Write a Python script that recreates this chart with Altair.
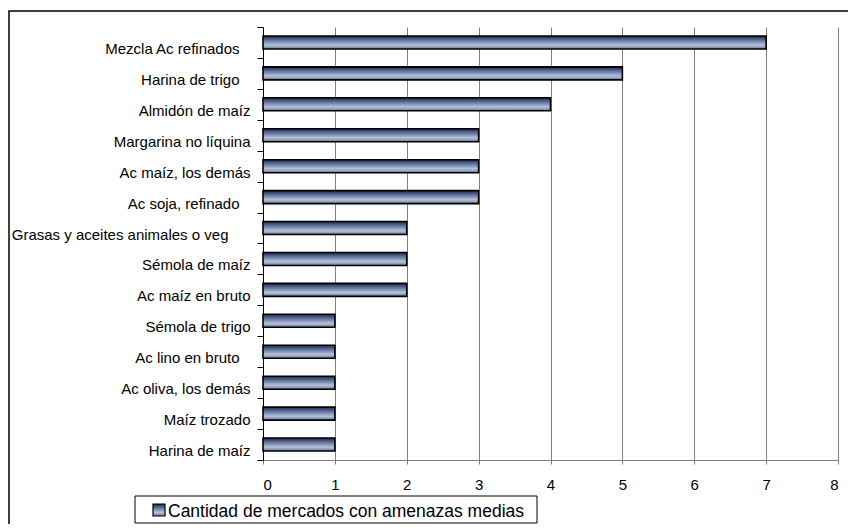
import altair as alt
import pandas as pd

categories = [
    "Mezcla Ac refinados ",
    "Harina de trigo ",
    "Almidón de maíz",
    "Margarina no líquina",
    "Ac maíz, los demás",
    "Ac soja, refinado ",
    "Grasas y aceites animales o veg  ",
    "Sémola de maíz",
    "Ac maíz en bruto",
    "Sémola de trigo",
    "Ac lino en bruto ",
    "Ac oliva, los demás",
    "Maíz trozado",
    "Harina de maíz",
]
values = [7, 5, 4, 3, 3, 3, 2, 2, 2, 1, 1, 1, 1, 1]
x_ticks = [0, 1, 2, 3, 4, 5, 6, 7, 8]
legend_label = "Cantidad de mercados con amenazas medias"

df = pd.DataFrame({"cat": categories, "val": values})
one = pd.DataFrame({"a": [0]})

SANS = "Liberation Sans"

grad = alt.Gradient(
    gradient="linear",
    stops=[
        alt.GradientStop(color="#1a2850", offset=0),
        alt.GradientStop(color="#5a6c94", offset=0.3),
        alt.GradientStop(color="#b4c2da", offset=0.7),
        alt.GradientStop(color="#6a7a9a", offset=1),
    ],
    x1=0, x2=0, y1=0, y2=1,
)

# keep trailing blanks of the original labels visible (as blank braille cells)
label_expr = (
    "trim(datum.label) + pad('', length(datum.label) - length(trim(datum.label)), '\u2800', 'right')"
)

bars = alt.Chart(df).mark_bar(size=13, fill=grad, stroke="black", strokeWidth=1.6).encode(
    x=alt.X(
        "val:Q",
        scale=alt.Scale(domain=[0, 8], nice=False),
        axis=alt.Axis(
            values=x_ticks, title=None, grid=True, gridColor="#808080", gridWidth=1,
            domainColor="#808080", tickColor="#808080", tickSize=4,
            labelFont=SANS, labelFontSize=15, labelColor="black", labelPadding=13,
        ),
    ),
    y=alt.Y(
        "cat:N",
        sort=categories,
        scale=alt.Scale(paddingInner=0, paddingOuter=0),
        axis=alt.Axis(
            title=None, grid=False, tickBand="extent", domainColor="black",
            tickColor="black", tickSize=6, labelFont=SANS, labelLimit=320,
            labelFontSize=15, labelColor="black", labelOffset=6, labelPadding=7,
            labelExpr=label_expr,
        ),
    ),
)

frame = alt.Chart(one).mark_rect(fill=None, stroke="black", strokeWidth=1.5).encode(
    x=alt.value(-254), x2=alt.value(700), y=alt.value(-16), y2=alt.value(700)
)

leg_box = alt.Chart(one).mark_rect(fill="white", stroke="black", strokeWidth=1).encode(
    x=alt.value(-128), x2=alt.value(274), y=alt.value(469), y2=alt.value(496)
)
leg_sym = alt.Chart(one).mark_rect(fill=grad, stroke="black", strokeWidth=1.2).encode(
    x=alt.value(-110), x2=alt.value(-98), y=alt.value(477), y2=alt.value(489)
)
leg_text = alt.Chart(pd.DataFrame({"t": [legend_label]})).mark_text(
    align="left", baseline="alphabetic", font=SANS, fontSize=17.5, color="black"
).encode(x=alt.value(-95), y=alt.value(490), text="t:N")

chart = alt.layer(bars, frame, leg_box, leg_sym, leg_text).properties(
    width=575, height=433,
    padding={"left": 255, "top": 19, "right": 10, "bottom": 64},
    autosize=alt.AutoSizeParams(type="none"),
    background="white",
).configure_view(stroke=None)

chart.save("out.html", embed_options={"renderer": "svg", "actions": False})
